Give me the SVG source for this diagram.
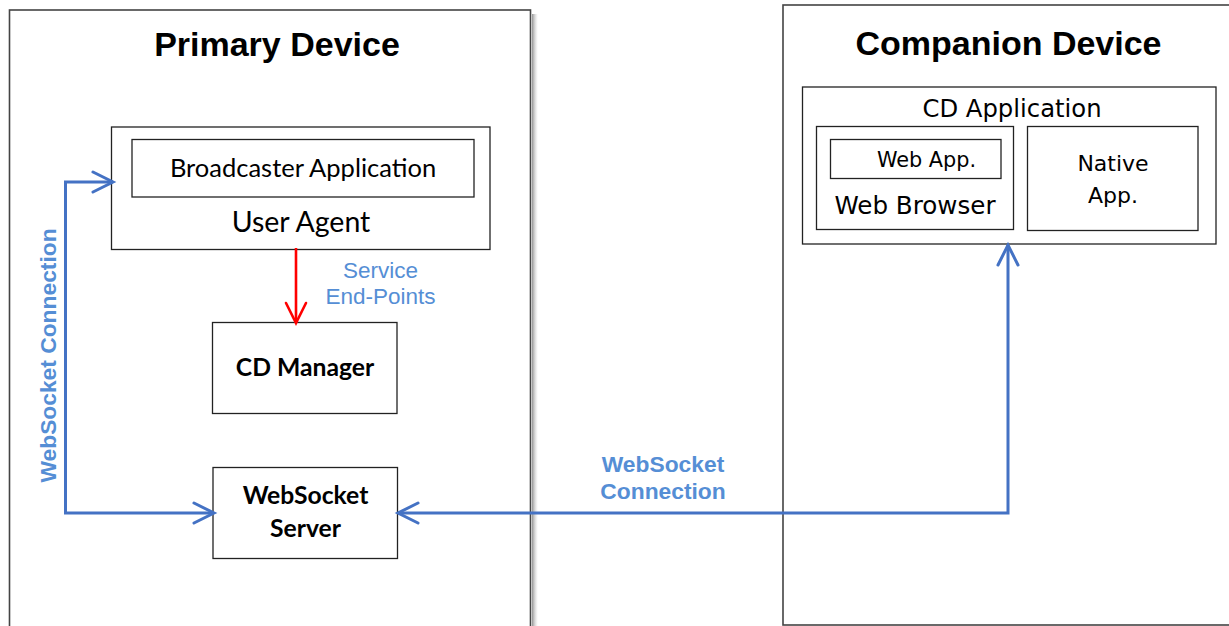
<svg xmlns="http://www.w3.org/2000/svg" width="1229" height="626" viewBox="0 0 1229 626">
<style>
.box{fill:#fff;stroke:#222;stroke-width:1.3}
.dev{fill:#fff;stroke:#444;stroke-width:1.6}
.title{font-family:"Liberation Sans",Arial,sans-serif;font-weight:bold;font-size:34px;fill:#000;text-anchor:middle}
.cal{font-family:Lato,"Open Sans",sans-serif;fill:#000;text-anchor:middle}
.calb{font-family:Lato,"Open Sans",sans-serif;font-weight:bold;fill:#000;text-anchor:middle}
.tah{font-family:"DejaVu Sans",Verdana,sans-serif;fill:#000;text-anchor:middle}
.lbl{font-family:"Liberation Sans",Arial,sans-serif;font-size:22.5px;fill:#558ED5;text-anchor:middle}
.lblb{font-family:"Liberation Sans",Arial,sans-serif;font-weight:bold;font-size:22.8px;fill:#558ED5;text-anchor:middle}
.blue{fill:none;stroke:#4472C4;stroke-width:3;stroke-linejoin:miter}
.red{fill:none;stroke:#FF0000;stroke-width:2.6}
</style>
<defs>
<linearGradient id="sh" x1="0" y1="0" x2="1" y2="0">
<stop offset="0" stop-color="#888" stop-opacity="0.9"/>
<stop offset="1" stop-color="#ccc" stop-opacity="0"/>
</linearGradient>
<marker id="ab" markerUnits="userSpaceOnUse" markerWidth="26" markerHeight="26" refX="22" refY="12" orient="auto-start-reverse" viewBox="0 0 26 26">
<path d="M2,2 L22,12 L2,22" fill="none" stroke="#4472C4" stroke-width="3" stroke-linecap="round"/>
</marker>
<marker id="ar" markerUnits="userSpaceOnUse" markerWidth="26" markerHeight="26" refX="22" refY="12" orient="auto" viewBox="0 0 26 26">
<path d="M2,2 L22,12 L2,22" fill="none" stroke="#FF0000" stroke-width="2.6" stroke-linecap="round"/>
</marker>
</defs>
<rect width="1229" height="626" fill="#fff"/>

<g id="primary-device">
<rect x="532" y="14" width="6" height="620" fill="url(#sh)"/>
<rect class="dev" x="9.5" y="10" width="521" height="640"/>
<text class="title" x="277" y="56">Primary Device</text>
</g>

<g id="companion-device">
<rect class="dev" x="783" y="5" width="460" height="620"/>
<text class="title" x="1008.5" y="55">Companion Device</text>
</g>

<g id="user-agent">
<rect class="box" x="111.5" y="127" width="378.5" height="122.5"/>
<text class="cal" x="301" y="232" font-size="28.5">User Agent</text>
</g>

<g id="broadcaster-application">
<rect class="box" x="132" y="139.5" width="342" height="57.5"/>
<text class="cal" x="303" y="177" font-size="25.5">Broadcaster Application</text>
</g>

<g id="cd-manager">
<rect class="box" x="212.5" y="322.5" width="184.5" height="91"/>
<text class="calb" x="305" y="376" font-size="24.7">CD Manager</text>
</g>

<g id="websocket-server">
<rect class="box" x="213" y="467.5" width="184.5" height="91"/>
<text class="calb" x="305.5" y="504" font-size="24.7">WebSocket</text>
<text class="calb" x="305.5" y="537" font-size="24.7">Server</text>
</g>

<g id="cd-application">
<rect class="box" x="802.5" y="87" width="413.5" height="157"/>
<text class="tah" x="1012" y="117" font-size="24.3">CD Application</text>
</g>

<g id="web-browser">
<rect class="box" x="816.5" y="126.5" width="197" height="103"/>
<text class="tah" x="915" y="214" font-size="24.6">Web Browser</text>
</g>

<g id="web-app">
<rect class="box" x="830.5" y="139.5" width="170.5" height="39"/>
<text class="tah" x="926.5" y="167" font-size="20.8">Web App.</text>
</g>

<g id="native-app">
<rect class="box" x="1027.5" y="126.5" width="170.5" height="104"/>
<text class="tah" x="1113" y="171" font-size="22">Native</text>
<text class="tah" x="1113" y="203" font-size="22">App.</text>
</g>

<g id="connectors">
<path class="blue" d="M113,182 L65.5,182 L65.5,513 L214,513" marker-start="url(#ab)" marker-end="url(#ab)"/>
<path class="blue" d="M1008,245 L1008,513 L398,513" marker-start="url(#ab)" marker-end="url(#ab)"/>
<path class="red" d="M296,248 L296,323" marker-end="url(#ar)"/>
<text class="lbl" x="380.5" y="278">Service</text>
<text class="lbl" x="380.5" y="304">End-Points</text>
<text class="lblb" x="663" y="472">WebSocket</text>
<text class="lblb" x="663" y="499">Connection</text>
<text class="lblb" transform="translate(56,355.5) rotate(-90)" x="0" y="0">WebSocket Connection</text>
</g>
</svg>
